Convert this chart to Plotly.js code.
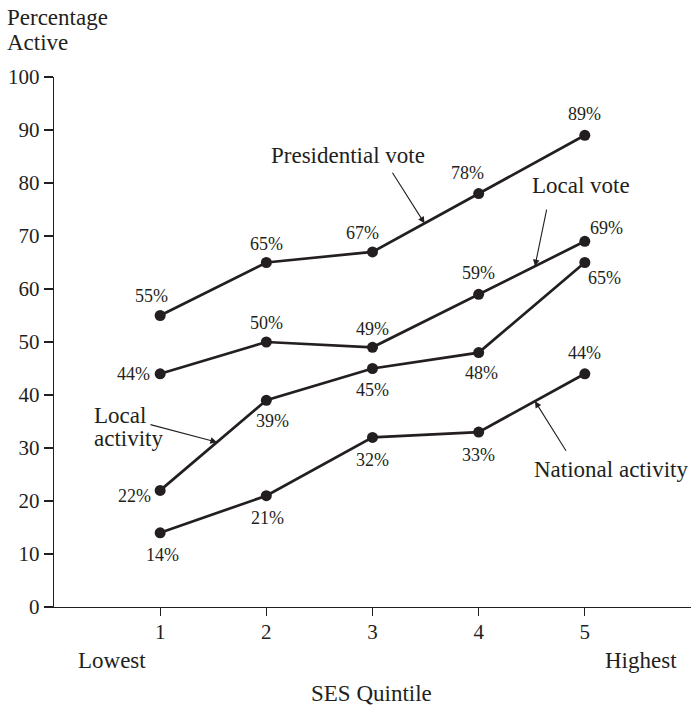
<!DOCTYPE html>
<html>
<head>
<meta charset="utf-8">
<script src="https://cdn.plot.ly/plotly-3.0.1.min.js"></script>
<style>html,body{margin:0;padding:0;background:#fff}#chart{width:693px;height:706px}</style>
</head>
<body>
<div id="chart"></div>
<script>
// ---- data ----
const quintiles = [1, 2, 3, 4, 5];
const presidentialVote = [55, 65, 67, 78, 89];
const localVote = [44, 50, 49, 59, 69];
const localActivity = [22, 39, 45, 48, 65];
const nationalActivity = [14, 21, 32, 33, 44];
const yTicks = [0, 10, 20, 30, 40, 50, 60, 70, 80, 90, 100];
const xTicks = [1, 2, 3, 4, 5];

// ---- styling / label placement (pixel offsets) ----
const INK = '#231f20';
const FONT = 'Liberation Serif, Times New Roman, serif';
const series = [
  {name: 'Presidential vote', y: presidentialVote,
   off: [[-9,-20],[0,-19],[-10,-19],[-11,-21],[0,-21]]},
  {name: 'Local vote', y: localVote,
   off: [[-27,0],[0,-19],[0,-18],[0,-21],[22,-13]]},
  {name: 'Local activity', y: localActivity,
   off: [[-26,6],[6,21],[0,21],[3,20],[20,15]]},
  {name: 'National activity', y: nationalActivity,
   off: [[2,22],[1,22],[0,23],[0,23],[0,-21]]}
];

const traces = series.map(s => ({
  x: quintiles, y: s.y, type: 'scatter', mode: 'lines+markers', name: s.name,
  line: {color: INK, width: 2.7}, marker: {color: INK, size: 11}, cliponaxis: false,
  hoverinfo: 'skip'
}));

const annotations = [];
series.forEach(s => {
  s.y.forEach((v, i) => {
    annotations.push({x: quintiles[i], y: v, xref: 'x', yref: 'y', text: v + '%',
      showarrow: false, xshift: s.off[i][0], yshift: -s.off[i][1],
      font: {family: FONT, size: 18, color: INK}});
  });
});

// series name callouts with arrows (head on the line, tail near the label)
function callout(lines, xi, frac, s, taildx, taildy, labels, xanchor) {
  const x = quintiles[xi] + frac;
  const y = s.y[xi] + frac * (s.y[xi + 1] - s.y[xi]);
  annotations.push({x: x, y: y, xref: 'x', yref: 'y', text: '', showarrow: true,
    arrowhead: 2, arrowsize: 1.2, arrowwidth: 1.1, arrowcolor: INK, ax: taildx, ay: taildy, standoff: 0});
  lines.forEach((t, k) => {
    annotations.push({x: x, y: y, xref: 'x', yref: 'y', text: t, showarrow: false,
      xshift: labels[k][0], yshift: -labels[k][1], xanchor: xanchor,
      font: {family: FONT, size: 23, color: INK}});
  });
}
callout(['Presidential vote'], 2, 0.49, series[0], -33, -52, [[-77, -68]], 'center');
callout(['Local vote'], 3, 0.53, series[1], 12, -58, [[46, -81]], 'center');
callout(['Local', 'activity'], 0, 0.535, series[2], -68, -18, [[-125, -27], [-125, -4]], 'left');
callout(['National activity'], 3, 0.53, series[3], 32, 51, [[76, 68]], 'center');

const bigFont = {family: FONT, size: 23, color: INK};
annotations.push({xref: 'paper', yref: 'paper', x: -0.0769, y: 1.1132, xanchor: 'left', yanchor: 'middle',
  showarrow: false, text: 'Percentage', font: bigFont});
annotations.push({xref: 'paper', yref: 'paper', x: -0.0769, y: 1.066, xanchor: 'left', yanchor: 'middle',
  showarrow: false, text: 'Active', font: bigFont});
annotations.push({xref: 'paper', yref: 'paper', x: 0.0903, y: -0.1, xanchor: 'center', yanchor: 'middle',
  showarrow: false, text: 'Lowest', font: bigFont});
annotations.push({xref: 'paper', yref: 'paper', x: 0.922, y: -0.1, xanchor: 'center', yanchor: 'middle',
  showarrow: false, text: 'Highest', font: bigFont});
annotations.push({xref: 'paper', yref: 'paper', x: 0.499, y: -0.1623, xanchor: 'center', yanchor: 'middle',
  showarrow: false, text: 'SES Quintile', font: bigFont});

const layout = {
  width: 693, height: 706,
  margin: {l: 54, r: 2, t: 77, b: 99},
  paper_bgcolor: '#fff', plot_bgcolor: '#fff',
  showlegend: false,
  font: {family: FONT, color: INK, size: 21},
  xaxis: {range: [0, 6], tickvals: xTicks, ticktext: xTicks.map(String), showgrid: false, zeroline: false,
    showline: true, linecolor: INK, linewidth: 1.3, ticks: 'outside', ticklen: 8, tickwidth: 1.3, tickcolor: INK,
    ticklabelstandoff: -3,
    tickfont: {family: FONT, size: 21, color: INK}, fixedrange: true},
  yaxis: {range: [0, 100], tickvals: yTicks, showgrid: false, zeroline: false,
    showline: true, linecolor: INK, linewidth: 1.3, ticks: 'outside', ticklen: 9, tickwidth: 1.3, tickcolor: INK,
    tickfont: {family: FONT, size: 21, color: INK}, fixedrange: true},
  annotations: annotations
};

Plotly.newPlot('chart', traces, layout, {displayModeBar: false, staticPlot: true});
</script>
</body>
</html>
